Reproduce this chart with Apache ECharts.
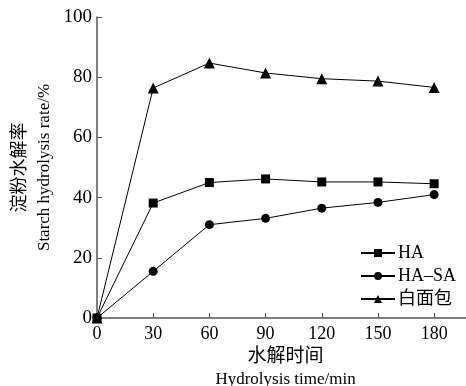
<!DOCTYPE html>
<html>
<head>
<meta charset="utf-8">
<script src="https://cdn.jsdelivr.net/npm/echarts@6/dist/echarts.min.js"></script>
<style>
html, body { margin: 0; padding: 0; background: #fff; }
#line { width: 466px; height: 386px; }
</style>
</head>
<body>
<div id="line"></div>
<script>
// 数据
var times = [0, 30, 60, 90, 120, 150, 180];
var haData = [0, 38.2, 45.0, 46.2, 45.2, 45.2, 44.6];
var hasaData = [0, 15.5, 31.0, 33.1, 36.5, 38.4, 41.0];
var breadData = [0, 76.4, 84.7, 81.4, 79.5, 78.7, 76.6];
var xTicks = [0, 30, 60, 90, 120, 150, 180];
var yTicks = [0, 20, 40, 60, 80, 100];

var fontFam = '"Liberation Serif", "Times New Roman", "Noto Sans CJK SC", serif';

function pairs(arr) {
    return arr.map(function (v, i) { return [times[i], v]; });
}

var myChart = echarts.init(document.getElementById('line'));

var option = {
    animation: false,
    backgroundColor: '#fff',
    textStyle: { fontFamily: fontFam, color: '#000' },
    grid: {
        left: 97,
        right: 0,
        top: 17,
        bottom: 68,
        outerBoundsMode: 'none'
    },
    legend: {
        orient: 'vertical',
        left: 360,
        top: 244,
        padding: 0,
        itemWidth: 34,
        itemHeight: 10,
        itemGap: 5,
        textStyle: { fontFamily: fontFam, fontSize: 18, color: '#000', padding: [0, 0, 0, -2] },
        data: ['HA', 'HA\u2013SA', '白面包']
    },
    xAxis: {
        type: 'value',
        min: 0,
        max: 197,
        interval: 30,
        splitLine: { show: false },
        axisLine: { lineStyle: { color: '#555', width: 1.5 } },
        axisTick: { inside: true, length: 5, lineStyle: { color: '#555' }, customValues: xTicks },
        axisLabel: { fontSize: 18, color: '#000', margin: 7, fontFamily: fontFam, customValues: xTicks },
        name: '{c|水解时间}\n{e|Hydrolysis time/min}',
        nameLocation: 'middle',
        nameGap: 28,
        nameTextStyle: {
            color: '#000',
            fontFamily: fontFam,
            padding: [0, 0, 0, 8],
            rich: {
                c: { fontSize: 19, lineHeight: 22, fontFamily: fontFam, color: '#000' },
                e: { fontSize: 17, lineHeight: 22, fontFamily: fontFam, color: '#000' }
            }
        }
    },
    yAxis: {
        type: 'value',
        min: 0,
        max: 100,
        interval: 20,
        splitLine: { show: false },
        axisLine: { lineStyle: { color: '#555', width: 1.5 } },
        axisTick: { inside: true, length: 5, lineStyle: { color: '#555' }, customValues: yTicks },
        axisLabel: { fontSize: 19, color: '#000', margin: 5, fontFamily: fontFam, customValues: yTicks },
        name: '{c|淀粉水解率}\n{e|Starch hydrolysis rate/%}',
        nameLocation: 'middle',
        nameGap: 40,
        nameTextStyle: {
            color: '#000',
            fontFamily: fontFam,
            rich: {
                c: { fontSize: 18, lineHeight: 24, fontFamily: fontFam, color: '#000' },
                e: { fontSize: 17, lineHeight: 24, fontFamily: fontFam, color: '#000' }
            }
        }
    },
    series: [
        {
            name: 'HA',
            type: 'line',
            data: pairs(haData),
            symbol: 'rect',
            symbolSize: 9,
            clip: false,
            lineStyle: { color: '#000', width: 1 },
            itemStyle: { color: '#000' }
        },
        {
            name: 'HA\u2013SA',
            type: 'line',
            data: pairs(hasaData),
            symbol: 'circle',
            symbolSize: 9,
            clip: false,
            lineStyle: { color: '#000', width: 1 },
            itemStyle: { color: '#000' }
        },
        {
            name: '白面包',
            type: 'line',
            data: pairs(breadData),
            symbol: 'triangle',
            symbolSize: 11,
            clip: false,
            lineStyle: { color: '#000', width: 1 },
            itemStyle: { color: '#000' }
        }
    ]
};

myChart.setOption(option);
</script>
</body>
</html>
